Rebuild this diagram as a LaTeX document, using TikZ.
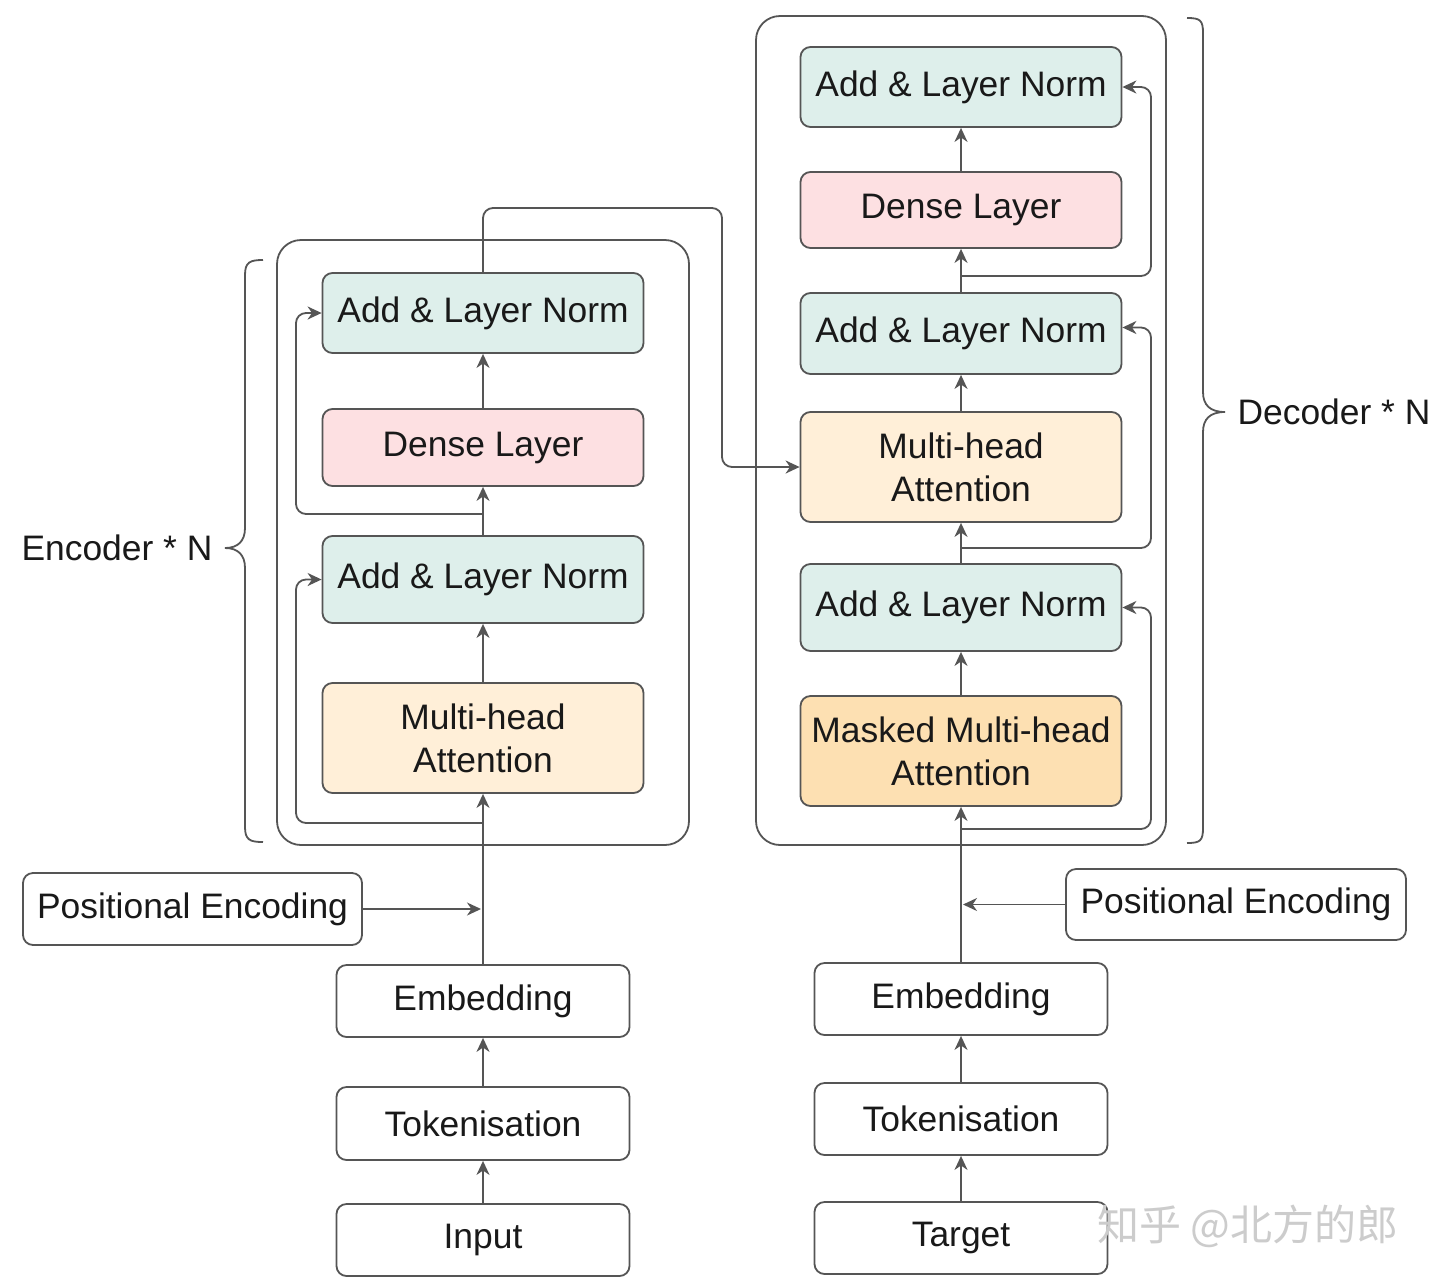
\documentclass[tikz,border=0pt]{standalone}
\usepackage{fontspec}
\setmainfont{Liberation Sans}
\newfontfamily\cjkwm{Noto Sans CJK SC}
\usetikzlibrary{arrows.meta,calc}
\definecolor{lc}{HTML}{555555}
\definecolor{cgreen}{HTML}{DEEFEB}
\definecolor{cpink}{HTML}{FDE0E2}
\definecolor{corange}{HTML}{FFEFD8}
\definecolor{cmask}{HTML}{FDE0B2}
\tikzset{
  blk/.style={draw=lc, line width=0.9pt, rounded corners=5pt, align=center,
    font=\fontsize{17.7}{21.5}\selectfont, text=black!90, inner sep=0pt},
  outerbox/.style={draw=lc, line width=0.9pt, rounded corners=12pt, inner sep=0pt},
  conn/.style={draw=lc, line width=0.9pt, rounded corners=5pt,
    -{Stealth[length=7pt,width=6.5pt,inset=2.2pt]}},
  bracestyle/.style={draw=lc, line width=0.9pt},
  lbl/.style={font=\fontsize{17.7}{21.5}\selectfont, text=black!90, inner sep=0pt}
}
\begin{document}
\begin{tikzpicture}[x=0.5pt,y=-0.5pt]
\useasboundingbox[fill=white] (0,0) rectangle (1440,1286);

% outer boxes
\node[outerbox, minimum width=206pt, minimum height=302.5pt] (encbox) at (483,542.5) {};
\node[outerbox, minimum width=205pt, minimum height=414.5pt] (decbox) at (961,430.5) {};

% braces
\draw[bracestyle] (263,260) .. controls (250,260) and (245,262) .. (245,275)
  -- (245,528) .. controls (245,541) and (238,548) .. (225,548)
  .. controls (238,548) and (245,555) .. (245,568)
  -- (245,827) .. controls (245,840) and (250,842) .. (263,842);
\draw[bracestyle] (1187,18) .. controls (1200,18) and (1203,20) .. (1203,33)
  -- (1203,392) .. controls (1203,405) and (1210,412) .. (1225,412)
  .. controls (1210,412) and (1203,419) .. (1203,432)
  -- (1203,828) .. controls (1203,841) and (1200,843) .. (1187,843);
\node[lbl] (enclbl) at (117,548) {Encoder * N};
\node[lbl] (declbl) at (1334,412) {Decoder * N};

% encoder blocks
\node[blk, fill=cgreen, minimum width=160.5pt, minimum height=40pt] (ean1) at (483,313) {Add \& Layer Norm};
\node[blk, fill=cpink, minimum width=160.5pt, minimum height=38.5pt] (edense) at (483,447.5) {Dense Layer};
\node[blk, fill=cgreen, minimum width=160.5pt, minimum height=43.5pt] (ean2) at (483,579.5) {Add \& Layer Norm};
\node[blk, fill=corange, minimum width=160.5pt, minimum height=55pt] (emha) at (483,738) {Multi-head\\Attention};

\node[blk, minimum width=169.5pt, minimum height=36pt] (epos) at (192.5,909) {Positional Encoding};
\node[blk, minimum width=146.5pt, minimum height=36pt] (eemb) at (483,1001) {Embedding};
\node[blk, minimum width=146.5pt, minimum height=36.5pt] (etok) at (483,1123.5) {Tokenisation};
\node[blk, minimum width=146.5pt, minimum height=36pt] (einp) at (483,1240) {Input};

% decoder blocks
\node[blk, fill=cgreen, minimum width=160.5pt, minimum height=40pt] (dan1) at (961,87) {Add \& Layer Norm};
\node[blk, fill=cpink, minimum width=160.5pt, minimum height=38pt] (ddense) at (961,210) {Dense Layer};
\node[blk, fill=cgreen, minimum width=160.5pt, minimum height=40.5pt] (dan2) at (961,333.5) {Add \& Layer Norm};
\node[blk, fill=corange, minimum width=160.5pt, minimum height=55pt] (dmha) at (961,467) {Multi-head\\Attention};
\node[blk, fill=cgreen, minimum width=160.5pt, minimum height=43.5pt] (dan3) at (961,607.5) {Add \& Layer Norm};
\node[blk, fill=cmask, minimum width=160.5pt, minimum height=55pt] (dmmha) at (961,751) {Masked Multi-head\\Attention};

\node[blk, minimum width=170pt, minimum height=35.5pt] (dpos) at (1236,904.5) {Positional Encoding};
\node[blk, minimum width=146.5pt, minimum height=36pt] (demb) at (961,999) {Embedding};
\node[blk, minimum width=146.5pt, minimum height=36pt] (dtok) at (961,1119) {Tokenisation};
\node[blk, minimum width=146.5pt, minimum height=36pt] (dtgt) at (961,1238) {Target};

% coordinates
\coordinate (eposin) at (481,909);
\coordinate (er1) at (483,823);
\coordinate (er2) at (483,514);
\coordinate (xbend) at (722,208);
\coordinate (dposin) at (963,905);
\coordinate (dr1) at (961,829);
\coordinate (dr2) at (961,548);
\coordinate (dr3) at (961,276);

% encoder connectors
\draw[conn] (einp.north) -- (etok.south);
\draw[conn] (etok.north) -- (eemb.south);
\draw[conn] (eemb.north) -- (emha.south);
\draw[conn] (epos.east) -- (epos.east -| eposin);
\draw[conn] (er1) -- ++(-187,0) |- (ean2.west);
\draw[conn] (emha.north) -- (ean2.south);
\draw[conn] (ean2.north) -- (edense.south);
\draw[conn] (er2) -- ++(-187,0) |- (ean1.west);
\draw[conn] (edense.north) -- (ean1.south);
\draw[conn] (ean1.north) |- (xbend) |- (dmha.west);

% decoder connectors
\draw[conn] (dtgt.north) -- (dtok.south);
\draw[conn] (dtok.north) -- (demb.south);
\draw[conn] (demb.north) -- (dmmha.south);
\draw[conn] (dpos.west) -- (dpos.west -| dposin);
\draw[conn] (dr1) -- ++(190,0) |- (dan3.east);
\draw[conn] (dmmha.north) -- (dan3.south);
\draw[conn] (dan3.north) -- (dmha.south);
\draw[conn] (dr2) -- ++(190,0) |- ([yshift=3pt]dan2.east);
\draw[conn] (dmha.north) -- (dan2.south);
\draw[conn] (dan2.north) -- (ddense.south);
\draw[conn] (dr3) -- ++(190,0) |- (dan1.east);
\draw[conn] (ddense.north) -- (dan1.south);

% watermark
\node[font=\cjkwm\fontsize{21}{21}\selectfont, text=gray!40, inner sep=0pt] (wm) at (1248,1226) {知乎 @北方的郎};
\end{tikzpicture}
\end{document}
